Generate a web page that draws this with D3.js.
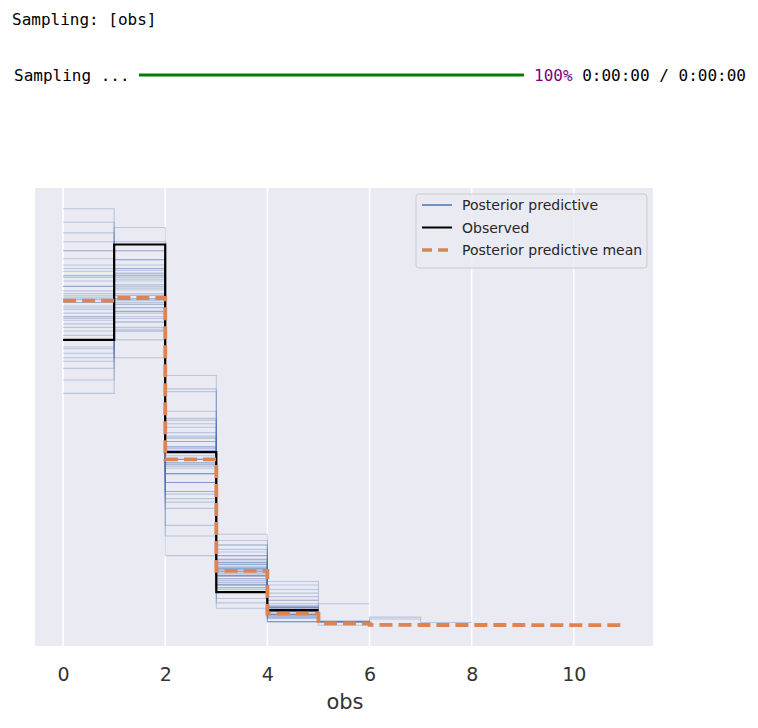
<!DOCTYPE html>
<html>
<head>
<meta charset="utf-8">
<script src="https://cdn.jsdelivr.net/npm/d3@7"></script>
<style>
  body { margin: 0; background: #fff; }
  svg { display: block; }
</style>
</head>
<body>
<svg id="chart" width="758" height="728"></svg>
<script>
// observed histogram (density per integer bin, bins start at 0)
const observed = [0.320, 0.427, 0.194, 0.037, 0.017];

// histogram of all posterior predictive values
const ppMean = [0.364, 0.367, 0.186, 0.061, 0.013, 0.002, 0.0003, 0.0002, 0.0002, 0.0001, 0.0001];

// individual posterior predictive draws (each starts at bin 0)
const ppDraws = [
  [0.467, 0.330, 0.150, 0.045, 0.008],
  [0.452, 0.330, 0.112, 0.090, 0.016],
  [0.440, 0.352, 0.138, 0.055, 0.015],
  [0.430, 0.334, 0.160, 0.064, 0.012],
  [0.420, 0.346, 0.150, 0.060, 0.020, 0.004],
  [0.411, 0.370, 0.142, 0.045, 0.032],
  [0.404, 0.360, 0.160, 0.056, 0.020],
  [0.397, 0.390, 0.131, 0.078, 0.004],
  [0.392, 0.366, 0.170, 0.048, 0.024],
  [0.386, 0.356, 0.182, 0.068, 0.008],
  [0.380, 0.400, 0.147, 0.045, 0.028],
  [0.375, 0.372, 0.180, 0.060, 0.013],
  [0.370, 0.344, 0.200, 0.082, 0.004],
  [0.366, 0.382, 0.178, 0.052, 0.022],
  [0.362, 0.362, 0.194, 0.066, 0.016],
  [0.358, 0.410, 0.160, 0.056, 0.012, 0.004],
  [0.354, 0.378, 0.190, 0.042, 0.036],
  [0.350, 0.366, 0.206, 0.070, 0.008],
  [0.346, 0.394, 0.186, 0.058, 0.016],
  [0.342, 0.386, 0.198, 0.046, 0.028],
  [0.338, 0.356, 0.222, 0.074, 0.010],
  [0.334, 0.420, 0.170, 0.060, 0.016],
  [0.330, 0.380, 0.210, 0.064, 0.016],
  [0.325, 0.360, 0.226, 0.085, 0.004],
  [0.320, 0.398, 0.200, 0.042, 0.040],
  [0.312, 0.388, 0.216, 0.068, 0.016],
  [0.305, 0.370, 0.230, 0.074, 0.021],
  [0.296, 0.430, 0.186, 0.070, 0.018],
  [0.288, 0.392, 0.232, 0.072, 0.016],
  [0.275, 0.400, 0.240, 0.064, 0.017, 0.004],
  [0.260, 0.446, 0.206, 0.070, 0.018],
  [0.390, 0.300, 0.212, 0.078, 0.020],
  [0.346, 0.320, 0.262, 0.052, 0.020],
  [0.310, 0.340, 0.280, 0.055, 0.012, 0.003],
  [0.420, 0.392, 0.078, 0.090, 0.016, 0.004],
  [0.380, 0.332, 0.176, 0.102, 0.010],
  [0.362, 0.420, 0.180, 0.019, 0.015, 0.004],
  [0.356, 0.350, 0.210, 0.030, 0.049, 0.005],
  [0.372, 0.340, 0.196, 0.050, 0.018, 0.024],
  [0.400, 0.352, 0.186, 0.040, 0.011, 0.004, 0.007],
  [0.368, 0.364, 0.182, 0.062, 0.012, 0.000, 0.009, 0.003],
  [0.392, 0.376, 0.170, 0.062],
  [0.344, 0.404, 0.196, 0.056],
  [0.365, 0.395, 0.100, 0.095, 0.045],
  [0.300, 0.410, 0.265, 0.025]
];

const xTicks = [0, 2, 4, 6, 8, 10];
const legendLabels = ["Posterior predictive", "Observed", "Posterior predictive mean"];

const svg = d3.select("#chart");

// console output above the figure
const mono = "'DejaVu Sans Mono', 'Liberation Mono', monospace";
svg.append("text")
  .attr("x", 12).attr("y", 25)
  .attr("font-family", mono).attr("font-size", 16).attr("fill", "#000")
  .text("Sampling: [obs]");

svg.append("text")
  .attr("x", 14).attr("y", 81)
  .attr("font-family", mono).attr("font-size", 16).attr("fill", "#000")
  .attr("xml:space", "preserve")
  .text("Sampling ... ");
svg.append("line")
  .attr("x1", 139).attr("x2", 524).attr("y1", 75).attr("y2", 75)
  .attr("stroke", "#008000").attr("stroke-width", 3);
svg.append("text")
  .attr("x", 534).attr("y", 81)
  .attr("font-family", mono).attr("font-size", 16)
  .attr("xml:space", "preserve")
  .call(t => {
    t.append("tspan").attr("fill", "#800080").text("100%");
    t.append("tspan").attr("fill", "#000").text(" 0:00:00 / 0:00:00");
  });

// plot area
const plot = { left: 35, top: 188, right: 653, bottom: 646 };

// matplotlib-style 5% margins
const xMax = ppMean.length;
const xPad = 0.05 * xMax;
const x = d3.scaleLinear()
  .domain([0 - xPad, xMax + xPad])
  .range([plot.left, plot.right]);

const allVals = [].concat(observed, ppMean, ...ppDraws);
const yMin = d3.min(allVals), yMax = d3.max(allVals);
const yPad = 0.05 * (yMax - yMin);
const y = d3.scaleLinear()
  .domain([yMin - yPad, yMax + yPad])
  .range([plot.bottom, plot.top]);

svg.append("rect")
  .attr("x", plot.left).attr("y", plot.top)
  .attr("width", plot.right - plot.left).attr("height", plot.bottom - plot.top)
  .attr("fill", "#eaeaf2");

// vertical white grid lines
svg.append("g")
  .selectAll("line")
  .data(xTicks)
  .join("line")
  .attr("x1", d => x(d)).attr("x2", d => x(d))
  .attr("y1", plot.top).attr("y2", plot.bottom)
  .attr("stroke", "#fff").attr("stroke-width", 1.5);

svg.append("clipPath").attr("id", "plotclip")
  .append("rect")
  .attr("x", plot.left).attr("y", plot.top)
  .attr("width", plot.right - plot.left).attr("height", plot.bottom - plot.top);

// steps-pre histogram line: edges 0..n, first height repeated
const stepLine = d3.line()
  .x(d => x(d[0]))
  .y(d => y(d[1]))
  .curve(d3.curveStepBefore);
const stepPoints = hist => d3.range(hist.length + 1).map(i => [i, hist[i === 0 ? 0 : i - 1]]);

const g = svg.append("g").attr("clip-path", "url(#plotclip)");

g.selectAll("path.pp")
  .data(ppDraws)
  .join("path")
  .attr("class", "pp")
  .attr("d", d => stepLine(stepPoints(d)))
  .attr("fill", "none")
  .attr("stroke", "#4c72b0")
  .attr("stroke-opacity", 0.3)
  .attr("stroke-width", 1.1);

g.append("path")
  .attr("d", stepLine(stepPoints(observed)))
  .attr("fill", "none")
  .attr("stroke", "#000")
  .attr("stroke-width", 2.2);

g.append("path")
  .attr("d", stepLine(stepPoints(ppMean)))
  .attr("fill", "none")
  .attr("stroke", "#dd8452")
  .attr("stroke-width", 3.8)
  .attr("stroke-dasharray", "13 6");

// x axis (labels only, no ticks / spine)
const xAxis = d3.axisBottom(x).tickValues(xTicks).tickSize(0).tickPadding(0);
const ax = svg.append("g")
  .attr("transform", `translate(0,${plot.bottom})`)
  .call(xAxis);
ax.select(".domain").remove();
ax.selectAll("text")
  .attr("y", 35)
  .attr("dy", null)
  .attr("font-family", "'DejaVu Sans', sans-serif")
  .attr("font-size", 19)
  .attr("fill", "#333");

svg.append("text")
  .attr("x", (plot.left + plot.right) / 2 + 1)
  .attr("y", 709)
  .attr("text-anchor", "middle")
  .attr("font-family", "'DejaVu Sans', sans-serif")
  .attr("font-size", 21)
  .attr("fill", "#333")
  .text("obs");

// legend
const leg = svg.append("g").attr("transform", "translate(416,194)");
leg.append("rect")
  .attr("width", 231).attr("height", 74).attr("rx", 3)
  .attr("fill", "#eaeaf2").attr("fill-opacity", 0.8)
  .attr("stroke", "#cccccc").attr("stroke-width", 1);

const legStyles = [
  { stroke: "#4c72b0", width: 1.5, dash: null },
  { stroke: "#000", width: 2, dash: null },
  { stroke: "#dd8452", width: 3.5, dash: "10 6" }
];
const rows = leg.selectAll("g.row")
  .data(legendLabels)
  .join("g")
  .attr("class", "row")
  .attr("transform", (d, i) => `translate(0,${11 + i * 22.5})`);
rows.append("line")
  .attr("x1", 6).attr("x2", 36)
  .attr("stroke", (d, i) => legStyles[i].stroke)
  .attr("stroke-width", (d, i) => legStyles[i].width)
  .attr("stroke-dasharray", (d, i) => legStyles[i].dash);
rows.append("text")
  .attr("x", 46).attr("y", 5)
  .attr("font-family", "'DejaVu Sans', sans-serif")
  .attr("font-size", 14)
  .attr("fill", "#262626")
  .text(d => d);
</script>
</body>
</html>
